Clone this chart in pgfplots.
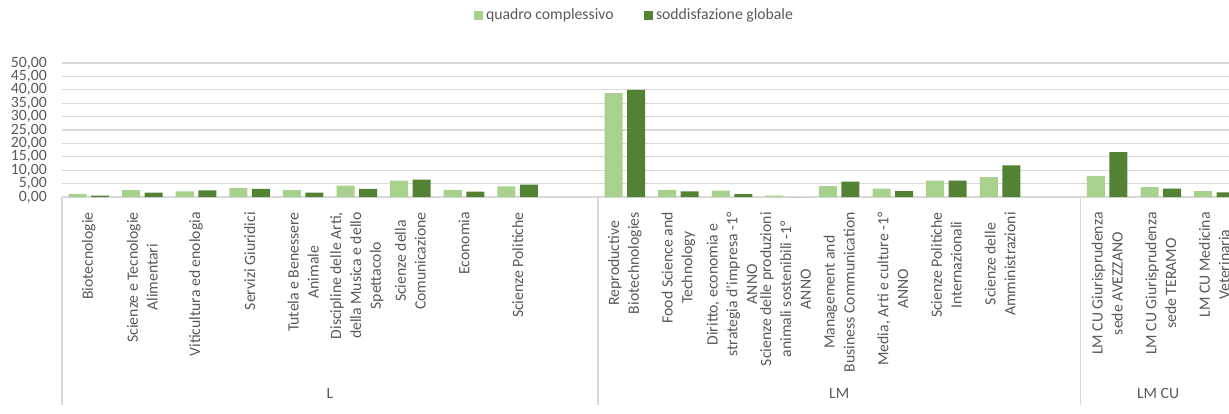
\documentclass[border=0pt]{standalone}
\usepackage{pgfplots}
\pgfplotsset{compat=1.18}
\usepackage{fontspec}
\setmainfont{Carlito}
\definecolor{lightg}{HTML}{A9D18E}
\definecolor{darkg}{HTML}{548235}
\definecolor{gridgray}{HTML}{D9D9D9}
\definecolor{labelgray}{HTML}{595959}
\newcommand{\lblfont}{\fontsize{11.8}{14.85}\selectfont}
\begin{document}
\begin{tikzpicture}
\begin{axis}[
  at={(0,0)}, anchor=south west,
  scale only axis, width=875.25pt, height=100.5pt,
  xmin=-0.5, xmax=21.272, ymin=0, ymax=50,
  axis x line=bottom, axis y line=left,
  axis line style={-},
  x axis line style={draw=gridgray, line width=1pt},
  y axis line style={draw=none},
  ymajorgrids, major grid style={draw=gridgray, line width=0.9pt},
  ytick={0,5,...,50},
  ytick style={draw=none}, xtick style={draw=none},
  major tick length=0pt,
  yticklabel={\pgfmathprintnumber[fixed,fixed zerofill,precision=2,use comma,assume math mode=true]{\tick}},
  yticklabel style={font=\lblfont, text=labelgray, inner sep=0pt, anchor=east},
  yticklabel shift=11.25pt,
  xtick={0,...,21},
  xticklabels={
    Biotecnologie,
    {Scienze e Tecnologie\\Alimentari},
    Viticultura ed enologia,
    Servizi Giuridici,
    {Tutela e Benessere\\Animale},
    {Discipline delle Arti,\\della Musica e dello\\Spettacolo},
    {Scienze della\\Comunicazione},
    Economia,
    Scienze Politiche,
    {},
    {Reproductive\\Biotechnologies},
    {Food Science and\\Technology},
    {Diritto, economia e\\strategia d'impresa  -1°\\ANNO},
    {Scienze delle produzioni\\animali sostenibili -1°\\ANNO},
    {Management and\\Business Communication},
    {Media, Arti e culture -1°\\ANNO},
    {Scienze Politiche\\Internazionali},
    {Scienze delle\\Amministrazioni},
    {},
    {LM CU  Giurisprudenza\\sede AVEZZANO},
    {LM CU Giurisprudenza\\sede TERAMO},
    {LM CU Medicina\\Veterinaria}
  },
  xticklabel style={rotate=90, anchor=east, align=center, font=\lblfont, text=labelgray, inner sep=0pt},
  xticklabel shift=11.25pt,
  legend style={at={(0.491,1.358)}, anchor=center, draw=none, fill=none,
    legend columns=2, font=\lblfont, text=labelgray, inner sep=0pt,
    /tikz/every even column/.append style={column sep=21pt}},
  legend cell align=left,
  legend image code/.code={\fill[#1] (0pt,-3.375pt) rectangle (6.75pt,3.375pt);},
]
\addplot[ybar, bar width=0.336, bar shift=-0.21, fill=lightg, draw=none] coordinates {
  (0,1.12) (1,2.6) (2,2.1) (3,3.35) (4,2.6) (5,4.2) (6,6.1) (7,2.7) (8,4.0)
  (10,38.8) (11,2.7) (12,2.35) (13,0.5) (14,4.1) (15,3.1) (16,6.1) (17,7.45)
  (19,7.9) (20,3.7) (21,2.2)
};
\addlegendentry{quadro complessivo}
\addplot[ybar, bar width=0.336, bar shift=0.21, fill=darkg, draw=none] coordinates {
  (0,0.5) (1,1.6) (2,2.5) (3,3.0) (4,1.6) (5,3.0) (6,6.45) (7,2.0) (8,4.6)
  (10,40.0) (11,2.1) (12,1.1) (13,0) (14,5.7) (15,2.2) (16,6.1) (17,11.8)
  (19,16.75) (20,3.1) (21,1.7)
};
\addlegendentry{soddisfazione globale}
\coordinate (s1) at (axis cs:-0.5,0);
\coordinate (s2) at (axis cs:9.5,0);
\coordinate (s3) at (axis cs:18.5,0);
\coordinate (g1) at (axis cs:4.5,0);
\coordinate (g2) at (axis cs:14,0);
\coordinate (g3) at (axis cs:19.95,0);
\end{axis}
\foreach \s in {s1,s2,s3} {\draw[gridgray, line width=1pt] (\s) -- ++(0,-156pt);}
\node[font=\lblfont, text=labelgray, inner sep=0pt] at ([yshift=-147pt]g1) {L};
\node[font=\lblfont, text=labelgray, inner sep=0pt] at ([yshift=-147pt]g2) {LM};
\node[font=\lblfont, text=labelgray, inner sep=0pt] at ([yshift=-147pt]g3) {LM CU};
\pgfresetboundingbox
\path[use as bounding box] (-46.5pt,-162.75pt) rectangle (875.25pt,147.75pt);
\end{tikzpicture}
\end{document}
